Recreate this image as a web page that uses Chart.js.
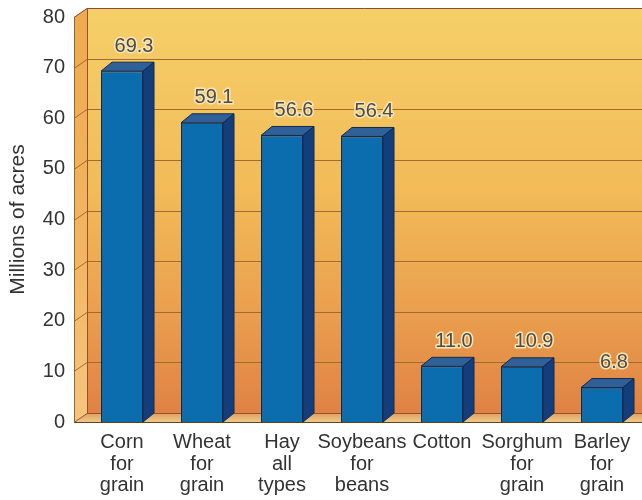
<!DOCTYPE html>
<html><head><meta charset="utf-8">
<style>html,body{margin:0;padding:0;background:#fff}canvas{display:block}</style>
<script src="https://cdn.jsdelivr.net/npm/chart.js@4"></script>
</head><body><canvas id="c" width="642" height="500"></canvas>
<script>
const categories = [["Corn","for","grain"],["Wheat","for","grain"],["Hay","all","types"],["Soybeans","for","beans"],["Cotton"],["Sorghum","for","grain"],["Barley","for","grain"]];
const acres = [69.3,59.1,56.6,56.4,11.0,10.9,6.8];
const valueLabels = ["69.3","59.1","56.6","56.4","11.0","10.9","6.8"];
const yTicks = [0,10,20,30,40,50,60,70,80];
const FONT = '"Liberation Sans", Arial, sans-serif';
const wallDX = 13, wallDY = 9, barDX = 11, barDY = 9, wallInset = 8;

const scene = {
  id: 'scene',
  beforeDatasetsDraw(chart) {
    const {ctx, chartArea: a, scales: {y}} = chart;
    const L = a.left - wallInset, BL = L + wallDX, R = 642;
    const top = y.getPixelForValue(80), bot = y.getPixelForValue(0);
    ctx.save();
    let g = ctx.createLinearGradient(0, top - wallDY, 0, bot - wallDY);
    g.addColorStop(0, '#f5cf68'); g.addColorStop(.45, '#f2bb58'); g.addColorStop(.75, '#ea9f4e'); g.addColorStop(1, '#df8244');
    ctx.fillStyle = g; ctx.fillRect(BL, top - wallDY, R - BL, bot - top);
    g = ctx.createLinearGradient(0, top, 0, bot);
    g.addColorStop(0, '#eeaa50'); g.addColorStop(.6, '#f2b662'); g.addColorStop(1, '#f5c680');
    ctx.fillStyle = g;
    ctx.beginPath(); ctx.moveTo(L, top); ctx.lineTo(BL, top - wallDY); ctx.lineTo(BL, bot - wallDY); ctx.lineTo(L, bot); ctx.closePath(); ctx.fill();
    g = ctx.createLinearGradient(0, bot - wallDY, 0, bot);
    g.addColorStop(0, '#dba05c'); g.addColorStop(1, '#efc88a');
    ctx.fillStyle = g;
    ctx.beginPath(); ctx.moveTo(L, bot); ctx.lineTo(BL, bot - wallDY); ctx.lineTo(R, bot - wallDY); ctx.lineTo(R, bot); ctx.closePath(); ctx.fill();
    ctx.lineWidth = 1;
    yTicks.forEach(v => {
      const p = Math.round(y.getPixelForValue(v)) + .5;
      ctx.strokeStyle = v === 80 ? '#8a4a3a' : (v === 0 ? '#a5492c' : '#a8692e');
      ctx.beginPath(); ctx.moveTo(L, p); ctx.lineTo(BL, p - wallDY); ctx.lineTo(R, p - wallDY); ctx.stroke();
    });
    ctx.strokeStyle = '#9a4e2c';
    ctx.beginPath(); ctx.moveTo(BL + .5, top - wallDY); ctx.lineTo(BL + .5, bot - wallDY); ctx.stroke();
    ctx.strokeStyle = '#8a6a30';
    ctx.beginPath(); ctx.moveTo(L + .5, top); ctx.lineTo(L + .5, bot); ctx.stroke();
    ctx.strokeStyle = '#5a4420';
    ctx.beginPath(); ctx.moveTo(L, bot + .5); ctx.lineTo(R, bot + .5); ctx.stroke();
    ctx.restore();
  },
  afterDatasetsDraw(chart) {
    const {ctx} = chart;
    const bars = chart.getDatasetMeta(0).data;
    ctx.save();
    ctx.lineWidth = 1; ctx.strokeStyle = '#12294a'; ctx.lineJoin = 'round';
    bars.forEach((b, i) => {
      const l = b.x - b.width / 2, r = b.x + b.width / 2, t = b.y, base = b.base;
      ctx.fillStyle = '#2f6098';
      ctx.beginPath(); ctx.moveTo(l, t); ctx.lineTo(l + barDX, t - barDY); ctx.lineTo(r + barDX, t - barDY); ctx.lineTo(r, t); ctx.closePath(); ctx.fill(); ctx.stroke();
      ctx.fillStyle = '#123f7c';
      ctx.beginPath(); ctx.moveTo(r, t); ctx.lineTo(r + barDX, t - barDY); ctx.lineTo(r + barDX, base - barDY); ctx.lineTo(r, base); ctx.closePath(); ctx.fill(); ctx.stroke();
      ctx.font = '20px ' + FONT; ctx.textAlign = 'center'; ctx.textBaseline = 'middle';
      ctx.lineWidth = 3; ctx.strokeStyle = '#f8e6b4';
      const lx = b.x + 12, ly = t - 25;
      ctx.strokeText(valueLabels[i], lx, ly);
      ctx.fillStyle = '#4d4a4c'; ctx.fillText(valueLabels[i], lx, ly);
      ctx.lineWidth = 1; ctx.strokeStyle = '#12294a';
    });
    ctx.restore();
  }
};

new Chart(document.getElementById('c'), {
  type: 'bar',
  data: { labels: categories, datasets: [{ data: acres, backgroundColor: '#0b6cae', borderColor: '#12294a', borderWidth: 1, barPercentage: .525, categoryPercentage: 1 }] },
  options: {
    responsive: false, animation: false,
    layout: { padding: { top: 17, left: 0, right: 0, bottom: 0 } },
    plugins: { legend: { display: false }, tooltip: { enabled: false } },
    scales: {
      x: {
        grid: { display: false }, border: { display: false },
        ticks: { color: '#333', font: { family: FONT, size: 20, lineHeight: 1.07 }, padding: 2, maxRotation: 0, autoSkip: false },
        afterFit(s) { s.height = 78; s.paddingLeft = 0; s.paddingRight = 0; }
      },
      y: {
        min: 0, max: 80,
        grid: { display: false }, border: { display: false },
        ticks: { stepSize: 10, color: '#333', font: { family: FONT, size: 20 }, padding: 9 },
        title: { display: true, text: 'Millions of acres', color: '#333', font: { family: FONT, size: 21 }, padding: { top: 6, bottom: 0 } },
        afterFit(s) { s.width = 82; s.paddingTop = 0; s.paddingBottom = 0; }
      }
    }
  },
  plugins: [scene]
});
</script></body></html>
